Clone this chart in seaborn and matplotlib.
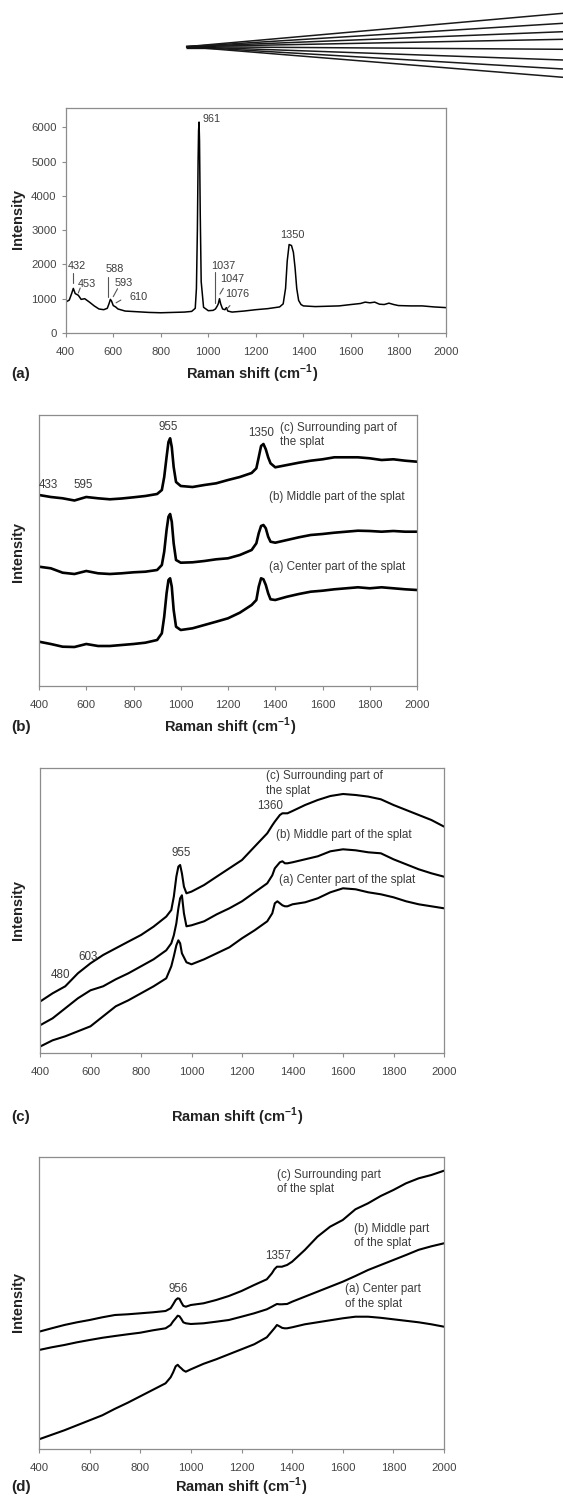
import matplotlib
matplotlib.use("Agg")
import matplotlib.pyplot as plt
import seaborn as sns
import pandas as pd

# ---------------- data ----------------
X_TICKS = [400, 600, 800, 1000, 1200, 1400, 1600, 1800, 2000]
A_YTICKS = [0, 1000, 2000, 3000, 4000, 5000, 6000]

# decorative fan at the top (end heights of the rays, in px of the banner)
FAN_END_Y = [13.3, 23.3, 31.7, 39.3, 49.3, 60, 69, 77.3]

# panel (a): single spectrum
A_X = [400, 415, 425, 432, 440, 453, 465, 480, 500, 520,
       540, 560, 575, 582, 588, 593, 600, 610, 620, 650,
       700, 750, 800, 850, 900, 930, 945, 950, 954, 957,
       959, 961, 963, 966, 970, 980, 1000, 1020, 1030, 1037,
       1042, 1047, 1052, 1060, 1070, 1076, 1082, 1100, 1150, 1200,
       1250, 1300, 1315, 1325, 1332, 1340, 1350, 1358, 1365, 1372,
       1380, 1390, 1400, 1450, 1500, 1550, 1600, 1640, 1660, 1680,
       1700, 1720, 1740, 1760, 1780, 1800, 1850, 1900, 1950, 2000]
A_Y = [900, 960, 1150, 1300, 1150, 1100, 980, 1000, 900, 790,
       700, 680, 720, 850, 980, 930, 800, 760, 700, 640,
       620, 600, 590, 600, 610, 630, 720, 1300, 3000, 5000,
       5900, 6150, 5600, 3500, 1500, 750, 650, 660, 700, 780,
       850, 1000, 850, 700, 680, 740, 640, 610, 640, 680,
       710, 760, 850, 1300, 2100, 2580, 2550, 2350, 1900, 1300,
       950, 830, 790, 770, 780, 790, 830, 860, 900, 880,
       900, 840, 830, 870, 830, 800, 790, 790, 760, 740]
A_LABELS = ["432", "453", "588", "593", "610", "961", "1037", "1047", "1076", "1350"]

# shared Raman-shift grid for panels (b)-(d); intensities in arbitrary units
GRID = [400, 450, 500, 550, 600, 650, 700, 750, 800, 850, 900,
        920, 930, 940, 948, 955, 962, 970, 980,
        1000, 1050, 1100, 1150, 1200, 1250, 1300,
        1320, 1330, 1340, 1350, 1360, 1370, 1380,
        1400, 1450, 1500, 1550, 1600, 1650, 1700, 1750, 1800, 1850, 1900, 1950, 2000]

B_C = [191, 189, 187.7, 185.5, 189, 187.7, 186.7, 187.5, 188.7, 190, 192,
       196, 209, 229, 244, 247.7, 239, 219, 204,
       200, 199, 201, 202.7, 206, 209, 213,
       217.7, 228.7, 240, 242, 236.7, 228.7, 222.7,
       218.7, 221, 223.3, 225.3, 226.7, 228.7, 228.7, 228.7, 227.7, 226, 226.7, 225.3, 224.3]
B_B = [119.3, 117.7, 113.3, 112, 115, 112.7, 112, 112.7, 113.7, 114.3, 116,
       121, 134.3, 156, 169.3, 172, 164.3, 142.7, 126,
       123.3, 123.7, 125, 126.7, 127.7, 131, 136,
       142.7, 152.7, 160, 161, 157.7, 149.3, 144.3,
       143.3, 146, 148.7, 151, 152, 153.3, 154.3, 155.3, 155, 154.3, 155, 154.3, 154.3]
B_A = [44.3, 42, 39.3, 39, 42, 40, 40, 41, 42, 43.3, 46,
       52.7, 69.3, 92.7, 106, 107.7, 99.3, 76, 59.3,
       56, 57.7, 61, 64.3, 67.7, 73.3, 81,
       86, 99.3, 107.7, 106.7, 101, 92.7, 86.7,
       86, 89.3, 92, 94.3, 95.3, 96.7, 97.7, 98.7, 97.7, 98.7, 97.7, 96.7, 96]

C_C = [51.7, 60, 67, 80, 90, 98.3, 105, 111.7, 118.3, 126.7, 136.7,
       143.3, 156.7, 176.7, 186.7, 188.3, 180, 166.7, 160,
       161.7, 168.3, 176.7, 185, 193.3, 206.7, 220,
       228, 231.7, 235, 238.3, 240, 240, 240,
       242.3, 248.3, 253.3, 257.3, 259.3, 258.3, 256.7, 254, 248.3, 243.3, 238.3, 233.3, 226.7]
C_B = [28, 35, 45, 55, 63, 67, 74, 80, 87, 94, 103,
       110, 118, 130, 145, 155, 158, 140, 127,
       128, 132, 139, 145, 152, 161, 170,
       178, 185, 188, 191, 192, 190, 190,
       191, 194, 197, 202, 204, 203, 201, 200, 194, 189, 184, 180, 176.6]
C_A = [6.7, 13, 17, 22, 27, 37, 47, 53, 60, 67, 75,
       87, 97, 108, 113, 110, 100, 96, 91,
       89, 94, 100, 106, 115, 123, 132,
       140, 150, 152, 150, 148, 147, 147,
       149, 151, 155, 161, 165, 164, 161, 159, 156, 152, 149, 147, 145]

D_C = [117.6, 121, 124.3, 127, 129.3, 132, 134.3, 135, 136, 137, 138.3,
       141, 145, 149.3, 151, 150.5, 147, 143.5, 142.6,
       144.3, 146, 149.3, 153.3, 158.3, 164.3, 170,
       176, 180, 182.6, 182.6, 182.6, 183.5, 184.3,
       187.6, 199.3, 212.6, 222.6, 229.3, 240, 246, 253.3, 259.3, 266, 271, 274.3, 278.6]
D_B = [99.3, 102, 104.3, 107, 109.3, 111.5, 113.3, 115, 116.6, 119, 121,
       124.3, 128, 131, 133.6, 133, 130.5, 127, 126,
       125.3, 126, 127.6, 129.3, 132.6, 136, 140,
       142.6, 144, 145.3, 145, 145, 145.2, 145.3,
       147.6, 152.6, 157.6, 162.6, 167.6, 173.3, 179.3, 184.3, 189.3, 194.3, 199.5, 203, 206]
D_A = [10, 14.5, 19, 24, 29, 34, 40.5, 46.5, 53, 59.5, 66,
       72, 77, 83, 84.5, 82.5, 81, 79, 77.6,
       80, 85.5, 90, 95, 100, 105, 112,
       118, 121, 124.3, 123, 121.5, 121, 121,
       122, 125, 127, 129, 131, 132.6, 132.6, 131.5, 130, 128.5, 127, 125, 122.6]

PANEL_TAGS = ["(a)", "(b)", "(c)", "(d)"]
XLABEL = r"Raman shift (cm$^{\mathbf{-1}}$)"
YLABEL = "Intensity"

# ---------------- style ----------------
sns.set_theme(style="white")
plt.rcParams["font.family"] = ["Liberation Sans", "DejaVu Sans"]
plt.rcParams["mathtext.fontset"] = "custom"
plt.rcParams["mathtext.rm"] = "Liberation Sans"
plt.rcParams["mathtext.bf"] = "Liberation Sans:bold"

W, H = 563, 1498
fig = plt.figure(figsize=(W / 100, H / 100), dpi=100)
fig.patch.set_facecolor("white")

SPINE = "#8c8c8c"
TICKC = "#444444"
ANNC = "#3c3c3c"


def fx(px):
    return px / W


def fy(py):
    return 1 - py / H


def make_ax(l, t, r, b):
    ax = fig.add_axes([l / W, 1 - b / H, (r - l) / W, (b - t) / H])
    ax.set_facecolor("white")
    for s in ax.spines.values():
        s.set_visible(True)
        s.set_color(SPINE)
        s.set_linewidth(0.9)
    ax.grid(False)
    ax.set_xlim(400, 2000)
    ax.set_xticks(X_TICKS)
    ax.tick_params(axis="x", bottom=True, direction="out", length=3, width=0.8,
                   color=SPINE, pad=7, labelsize=8.2, labelcolor=TICKC)
    ax.set_xlabel("")
    ax.set_ylabel("")
    return ax


def spectrum(ax, x, y, lw):
    df = pd.DataFrame({"shift": x, "intensity": y})
    sns.lineplot(data=df, x="shift", y="intensity", ax=ax, color="black",
                 lw=lw, estimator=None, sort=False, legend=False)
    ax.set_xlabel("")
    ax.set_ylabel("")


def labels(tag, tag_y, xl_x, yl_y):
    fig.text(fx(11), fy(tag_y), tag, fontsize=11, fontweight="bold",
             ha="left", va="center", color="#222222")
    fig.text(fx(xl_x), fy(tag_y), XLABEL, fontsize=10.5, fontweight="bold",
             ha="center", va="center", color="#222222")
    fig.text(fx(18.5), fy(yl_y), YLABEL, fontsize=10.5, fontweight="bold",
             rotation=90, ha="center", va="center", color="#222222")


# ---------------- banner fan ----------------
axf = fig.add_axes([0, 1 - 95 / H, 1, 95 / H])
axf.set_xlim(0, W)
axf.set_ylim(95, 0)
axf.axis("off")
for ye in FAN_END_Y:
    axf.plot([186, W], [46.7, ye], color="#1a1a1a", lw=1.1, solid_capstyle="butt")
axf.plot([186, 215], [46.7, 46.7], color="#111111", lw=2.4, solid_capstyle="butt")

# ---------------- panel (a) ----------------
ax = make_ax(65.7, 108, 446, 333)
spectrum(ax, A_X, A_Y, 1.1)
ax.set_ylim(0, 6560)
ax.set_yticks(A_YTICKS)
ax.tick_params(axis="y", left=True, direction="out", length=3, width=0.8,
               color=SPINE, pad=3.5, labelsize=8.2, labelcolor=TICKC)
ak = dict(fontsize=7.8, color=ANNC, va="center", ha="center")
ax.text(446, 1960, A_LABELS[0], **ak)
ax.text(491, 1430, A_LABELS[1], **ak)
ax.text(608, 1866, A_LABELS[2], **ak)
ax.text(645, 1450, A_LABELS[3], **ak)
ax.text(706, 1040, A_LABELS[4], **ak)
ax.text(975, 6240, A_LABELS[5], fontsize=7.8, color=ANNC, va="center", ha="left")
ax.text(1061, 1962, A_LABELS[6], **ak)
ax.text(1099, 1574, A_LABELS[7], **ak)
ax.text(1120, 1137, A_LABELS[8], **ak)
ax.text(1352, 2857, A_LABELS[9], **ak)
lk = dict(color="#555555", lw=0.8)
ax.plot([429, 429], [1458, 1740], **lk)
ax.plot([453, 461], [1166, 1312], **lk)
ax.plot([580, 580], [1058, 1641], **lk)
ax.plot([600, 618], [1060, 1290], **lk)
ax.plot([612, 632], [880, 960], **lk)
ax.plot([1030, 1030], [880, 1790], **lk)
ax.plot([1049, 1063], [1137, 1303], **lk)
ax.plot([1077, 1091], [690, 800], **lk)
labels(PANEL_TAGS[0], 374, 252.5, 219)

# ---------------- panel (b) ----------------
ax = make_ax(39, 415, 417, 686)
for ys in (B_A, B_B, B_C):
    spectrum(ax, GRID, ys, 1.9)
ax.set_ylim(0, 271)
ax.set_yticks([])
tk = dict(fontsize=8.4, color=ANNC, va="center")
ax.text(947, 259, "955", ha="center", **tk)
ax.text(1340, 253, "1350", ha="center", **tk)
ax.text(1421, 251, "(c) Surrounding part of\nthe splat", ha="left", linespacing=1.25, **tk)
ax.text(400, 201, "433", ha="left", **tk)
ax.text(586, 201, "595", ha="center", **tk)
ax.text(1375, 189, "(b) Middle part of the splat", ha="left", **tk)
ax.text(1375, 119, "(a) Center part of the splat", ha="left", **tk)
labels(PANEL_TAGS[1], 727, 229.7, 552)

# ---------------- panel (c) ----------------
ax = make_ax(40, 768, 444, 1053.3)
for ys in (C_A, C_B, C_C):
    spectrum(ax, GRID, ys, 1.5)
ax.set_ylim(0, 285.3)
ax.set_yticks([])
ax.text(1297, 269.8, "(c) Surrounding part of\nthe splat", ha="left", linespacing=1.25, **tk)
ax.text(1313, 247.6, "1360", ha="center", **tk)
ax.text(1334, 218.3, "(b) Middle part of the splat", ha="left", **tk)
ax.text(961, 200, "955", ha="center", **tk)
ax.text(1347, 173.3, "(a) Center part of the splat", ha="left", **tk)
ax.text(591, 96.6, "603", ha="center", **tk)
ax.text(482, 78.3, "480", ha="center", **tk)
labels(PANEL_TAGS[2], 1117, 237, 910)

# ---------------- panel (d) ----------------
ax = make_ax(39, 1157, 444, 1449.3)
for ys in (D_A, D_B, D_C):
    spectrum(ax, GRID, ys, 1.5)
ax.set_ylim(0, 292.3)
ax.set_yticks([])
ax.text(1341, 267, "(c) Surrounding part\nof the splat", ha="left", linespacing=1.25, **tk)
ax.text(1645, 213.5, "(b) Middle part\nof the splat", ha="left", linespacing=1.25, **tk)
ax.text(1345, 193.3, "1357", ha="center", **tk)
ax.text(950, 160, "956", ha="center", **tk)
ax.text(1608, 152.8, "(a) Center part\nof the splat", ha="left", linespacing=1.25, **tk)
labels(PANEL_TAGS[3], 1487, 241, 1302)

fig.savefig("out.png", dpi=100, facecolor="white")
